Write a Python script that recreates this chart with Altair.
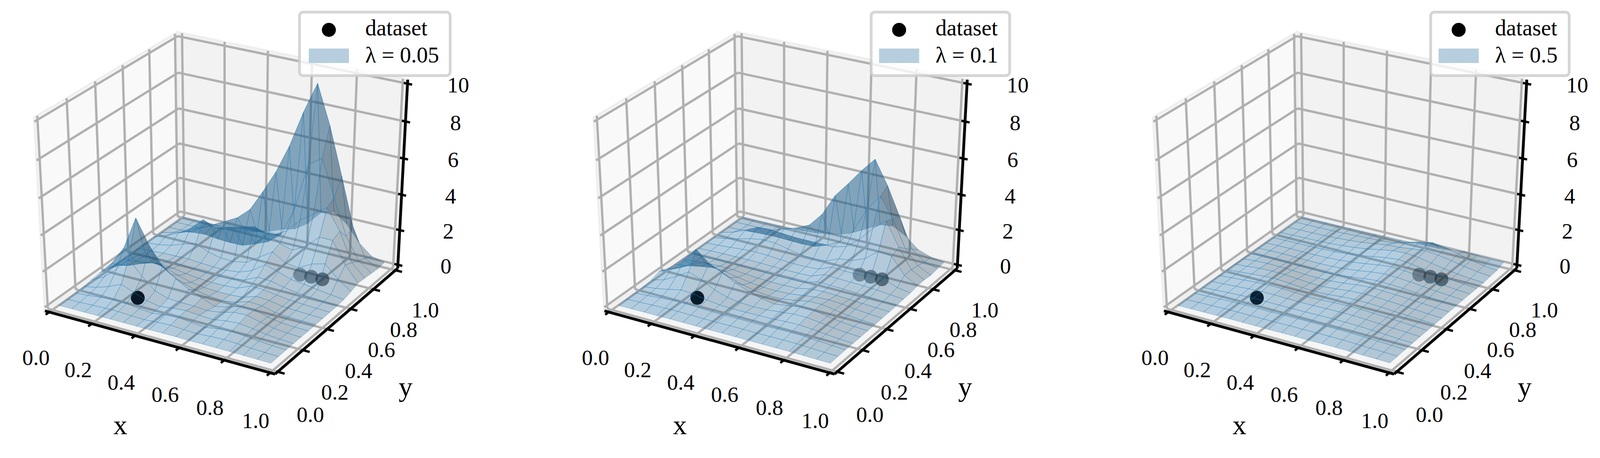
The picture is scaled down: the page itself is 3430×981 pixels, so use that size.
import numpy as np
import pandas as pd
import altair as alt

GRID = [0.02, 0.08, 0.14, 0.20, 0.26, 0.32, 0.38, 0.44, 0.50, 0.56, 0.62, 0.68, 0.74, 0.80, 0.86, 0.92, 0.98]
X_TICKS = [0.0, 0.2, 0.4, 0.6, 0.8, 1.0]
Y_TICKS = [0.0, 0.2, 0.4, 0.6, 0.8, 1.0]
Z_TICKS = [0, 2, 4, 6, 8, 10]
DOTS_X = [0.255, 0.717, 0.765, 0.815]
DOTS_Y = [0.233, 0.740, 0.746, 0.748]
DOTS_OP = [1.0, 0.38, 0.45, 0.52]
LAMBDAS = ["λ = 0.05", "λ = 0.1", "λ = 0.5"]

Z_A = [
[.00,.01,.01,.02,.02,.02,.02,.03,.03,.03,.02,.03,.03,.03,.02,.01,.00],
[.02,.04,.07,.10,.10,.06,.04,.10,.13,.08,.05,.11,.14,.10,.06,.03,.01],
[.04,.10,.18,.26,.22,.12,.06,.16,.22,.14,.07,.18,.24,.18,.10,.05,.02],
[.08,.22,.46,.78,.50,.22,.10,.20,.26,.20,.16,.28,.34,.24,.12,.06,.02],
[.14,.48,1.1,1.9,1.1,.46,.22,.18,.18,.12,.22,.42,.45,.26,.12,.05,.02],
[.20,.95,2.0,3.85,2.5,1.55,1.0,.60,.30,.02,.18,.40,.42,.20,.08,.04,.02],
[.10,.50,1.1,1.6,1.2,.75,.42,.20,.06,.00,.10,.34,.30,.12,.06,.04,.03],
[.04,.16,.46,.70,.60,.34,.14,.04,.00,.00,.05,.30,.26,.12,.08,.05,.03],
[.02,.08,.20,.30,.24,.12,.04,.00,.00,.05,.36,.34,.24,.14,.10,.06,.04],
[.01,.05,.12,.16,.12,.06,.02,.00,.05,.18,.54,.50,.34,.22,.16,.10,.05],
[.01,.05,.10,.12,.14,.08,.04,.04,.12,.40,.93,.70,.46,.38,.26,.16,.08],
[.02,.10,.24,.50,.70,.40,.24,.22,.36,.85,1.33,.90,.80,1.2,1.4,.7,.2],
[.05,.30,.65,1.1,1.78,1.5,1.7,1.9,2.1,1.9,1.5,1.3,1.7,2.4,2.4,1.2,.35],
[.00,.18,.40,.80,1.1,1.1,1.2,1.3,1.5,1.5,1.9,2.7,3.2,3.75,2.6,1.0,.3],
[.00,.02,.06,.12,.03,.00,.02,.3,.6,1.2,2.8,5.5,6.0,4.0,2.0,.8,.25],
[.00,.00,.02,.37,.75,1.15,1.8,3.0,4.3,5.9,7.9,9.6,7.5,4.9,2.2,.6,.2],
[.00,.00,.00,.00,.02,.10,.20,.40,.70,.9,1.4,2.2,2.4,1.9,1.0,.4,.25],
]
Z_B = [
[.00,.01,.02,.02,.03,.03,.03,.03,.03,.03,.03,.03,.03,.03,.02,.01,.00],
[.02,.05,.08,.10,.11,.10,.09,.09,.10,.10,.09,.10,.11,.10,.07,.04,.02],
[.04,.09,.15,.20,.21,.18,.15,.14,.15,.15,.15,.17,.18,.16,.11,.06,.03],
[.07,.16,.30,.46,.42,.28,.19,.16,.17,.18,.20,.24,.26,.21,.13,.07,.03],
[.12,.32,.70,1.15,.90,.52,.28,.17,.14,.16,.24,.32,.33,.24,.14,.07,.03],
[.30,.60,1.3,2.1,1.5,1.15,.78,.48,.27,.15,.26,.38,.38,.25,.13,.07,.03],
[.12,.36,.75,1.05,.85,.55,.32,.16,.08,.10,.22,.36,.38,.26,.14,.08,.04],
[.05,.15,.30,.42,.38,.24,.12,.05,.03,.06,.16,.26,.30,.25,.16,.09,.05],
[.03,.08,.14,.18,.16,.10,.05,.02,.02,.04,.20,.24,.22,.18,.14,.10,.06],
[.02,.05,.08,.10,.09,.06,.03,.02,.03,.04,.28,.26,.24,.20,.16,.12,.08],
[.02,.05,.07,.08,.09,.08,.06,.05,.05,.08,.36,.32,.30,.28,.24,.16,.10],
[.02,.06,.12,.18,.22,.20,.14,.10,.10,.16,.46,.42,.42,.50,.50,.24,.12],
[.02,.14,.30,.50,.62,.60,.45,.30,.25,.30,.62,.70,1.0,1.6,1.5,.6,.2],
[.01,.20,.50,.85,.90,.85,.80,.80,.80,.80,1.0,1.6,2.4,3.0,1.7,.6,.2],
[.00,.04,.08,.12,.14,.12,.10,.14,.40,.8,1.6,3.0,3.9,2.8,1.3,.5,.14],
[.00,.01,.02,.04,.30,.55,.90,1.7,2.95,3.8,4.7,5.5,4.2,2.6,.95,.4,.2],
[.00,.00,.01,.02,.04,.06,.12,.25,.4,.7,1.1,1.5,1.6,1.2,.6,.35,.25],
]
Z_C = [
[.00,.01,.02,.03,.04,.04,.04,.04,.05,.05,.05,.06,.06,.05,.04,.03,.02],
[.01,.03,.05,.07,.08,.08,.08,.09,.10,.10,.11,.11,.11,.09,.07,.05,.03],
[.02,.05,.08,.11,.13,.13,.13,.14,.15,.16,.16,.16,.15,.13,.10,.07,.04],
[.03,.07,.11,.15,.18,.18,.18,.18,.19,.20,.21,.21,.19,.16,.12,.08,.05],
[.04,.09,.14,.19,.23,.23,.21,.20,.21,.23,.24,.24,.21,.17,.13,.09,.05],
[.05,.11,.17,.22,.26,.25,.21,.18,.19,.23,.26,.25,.22,.18,.14,.09,.05],
[.06,.12,.19,.24,.26,.22,.16,.13,.16,.23,.27,.26,.23,.18,.14,.09,.05],
[.06,.12,.19,.21,.20,.15,.10,.09,.15,.23,.28,.27,.23,.19,.14,.09,.05],
[.05,.11,.15,.14,.12,.08,.06,.08,.15,.24,.30,.28,.25,.20,.15,.10,.06],
[.04,.08,.10,.09,.07,.05,.05,.09,.17,.27,.34,.32,.28,.22,.16,.10,.06],
[.03,.06,.07,.06,.05,.05,.07,.12,.21,.32,.40,.38,.32,.24,.17,.11,.06],
[.02,.04,.05,.05,.05,.07,.11,.18,.28,.40,.48,.44,.36,.26,.18,.11,.06],
[.01,.03,.04,.05,.07,.10,.16,.25,.37,.50,.58,.50,.38,.27,.18,.10,.05],
[.01,.02,.04,.06,.09,.14,.21,.31,.45,.58,.62,.56,.42,.28,.17,.09,.04],
[.00,.02,.03,.05,.08,.13,.20,.29,.41,.45,.55,.62,.55,.42,.28,.15,.08],
[.00,.01,.02,.03,.05,.08,.12,.16,.20,.43,.63,.78,.67,.50,.30,.18,.10],
[.00,.00,.01,.01,.02,.03,.04,.05,.06,.08,.10,.12,.20,.30,.27,.24,.25],
]

# ----- perspective camera; its angles and the box proportions are found by a search
# against seven corners of the box
M = 1 / 48
ZM = 10 / 48
CAL_3D = [(-M, -M, -ZM), (1 + M, -M, -ZM), (1 + M, 1 + M, -ZM), (-M, 1 + M, -ZM),
          (-M, -M, 10 + ZM), (-M, 1 + M, 10 + ZM), (1 + M, 1 + M, 10 + ZM)]
CAL_PX = np.array([(95.7, 665), (590, 799), (854.6, 579), (384.6, 460), (76.5, 250), (377.5, 65.7), (873.7, 175)])


def make_cam(el_deg, az_deg, zr):
    el, az = np.radians(el_deg), np.radians(az_deg)
    box = np.array([4.0, 4.0, zr])
    box = box * 1.8294640721620434 * 25 / 24 / np.linalg.norm(box)
    R = box / 2
    E = R + 10 * np.array([np.cos(el) * np.cos(az), np.cos(el) * np.sin(az), np.sin(el)])
    w = (E - R) / np.linalg.norm(E - R)
    u = np.cross([0, 0, 1], w)
    u = u / np.linalg.norm(u)
    v = np.cross(w, u)
    return box, E, u, v, w


def raw(cam, x, y, z):
    box, E, u, v, w = cam
    p = np.array([x * box[0], y * box[1], z / 10 * box[2]], dtype=float) - E
    d = -(p @ w)
    return (p @ u) / d, (p @ v) / d, d


best = None
for el_d in np.arange(14, 36, 1.0):
    for az_d in np.arange(-72, -48, 1.0):
        for zr in np.arange(2.4, 5.2, 0.2):
            cam = make_cam(el_d, az_d, zr)
            rw = np.array([raw(cam, *c)[:2] for c in CAL_3D])
            A1 = np.c_[rw[:, 0], np.ones(7)]
            A2 = np.c_[rw[:, 1], np.ones(7)]
            s1, r1 = np.linalg.lstsq(A1, CAL_PX[:, 0], rcond=None)[:2]
            s2, r2 = np.linalg.lstsq(A2, CAL_PX[:, 1], rcond=None)[:2]
            err = float(r1[0] + r2[0])
            if best is None or err < best[0]:
                best = (err, cam, s1, s2)
_, CAM, SX, SY = best


def proj(x, y, z):
    a, b, d = raw(CAM, x, y, z)
    return SX[0] * a + SX[1], SY[0] * b + SY[1], d


LIGHT = np.array([-2 / 3, -2 / 3, 1 / 3])
BASE = np.array([31, 119, 180])


def hexc(f):
    c = np.clip(BASE * f, 0, 255).astype(int)
    return "#%02x%02x%02x" % tuple(c)


def surface_frame(Z):
    quads = []
    n = len(GRID)
    for j in range(n - 1):
        for i in range(n - 1):
            corners = [(GRID[i], GRID[j], Z[j][i]), (GRID[i + 1], GRID[j], Z[j][i + 1]),
                       (GRID[i + 1], GRID[j + 1], Z[j + 1][i + 1]), (GRID[i], GRID[j + 1], Z[j + 1][i])]
            c = np.array(corners)
            nrm = np.cross(c[0] - c[2], c[1] - c[3])
            shade = nrm / np.linalg.norm(nrm) @ LIGHT
            f = 0.3 + 0.7 * (shade + 1) / 2
            pts = [proj(*p) for p in corners]
            depth = np.mean([p[2] for p in pts])
            quads.append((depth, pts, hexc(f)))
    quads.sort(key=lambda q: -q[0])
    rows = []
    for q, (d, pts, col) in enumerate(quads):
        for k, p in enumerate(pts):
            rows.append({"sx": round(p[0], 2), "sy": round(p[1], 2), "id": q, "k": k, "c": col})
    return pd.DataFrame(rows)


def poly_frame(polys):
    rows = []
    for q, (pts, col) in enumerate(polys):
        for k, p in enumerate(pts):
            a = proj(*p)
            rows.append({"sx": a[0], "sy": a[1], "id": q, "k": k, "c": col})
    return pd.DataFrame(rows)


def seg_frame(segs):
    rows = []
    for q, (p0, p1) in enumerate(segs):
        for k, p in enumerate((p0, p1)):
            a = proj(*p)
            rows.append({"sx": a[0], "sy": a[1], "id": q, "k": k})
    return pd.DataFrame(rows)


lo, hi, zlo, zhi = -M, 1 + M, -ZM, 10 + ZM
PANES = poly_frame([
    ([(lo, lo, zlo), (hi, lo, zlo), (hi, hi, zlo), (lo, hi, zlo)], "#f5f5f5"),
    ([(lo, lo, zlo), (lo, hi, zlo), (lo, hi, zhi), (lo, lo, zhi)], "#f9f9f9"),
    ([(lo, hi, zlo), (hi, hi, zlo), (hi, hi, zhi), (lo, hi, zhi)], "#f2f2f2"),
])
grid_segs = []
for t in X_TICKS:
    grid_segs += [((t, lo, zlo), (t, hi, zlo)), ((t, hi, zlo), (t, hi, zhi))]
for t in Y_TICKS:
    grid_segs += [((lo, t, zlo), (hi, t, zlo)), ((lo, t, zlo), (lo, t, zhi))]
for t in Z_TICKS:
    grid_segs += [((lo, lo, t), (lo, hi, t)), ((lo, hi, t), (hi, hi, t))]
GRIDLINES = seg_frame(grid_segs)
AXES = seg_frame([((lo, lo, zlo), (hi, lo, zlo)), ((hi, lo, zlo), (hi, hi, zlo)), ((hi, hi, zlo), (hi, hi, zhi))])
tick_segs = []
for t in X_TICKS:
    tick_segs.append(((t, lo - 0.026, zlo), (t, lo + 0.006, zlo)))
for t in Y_TICKS:
    tick_segs.append(((hi - 0.006, t, zlo), (hi + 0.03, t, zlo)))
for t in Z_TICKS:
    tick_segs.append(((hi - 0.016, hi, t), (hi + 0.02, hi, t)))
TICKS = seg_frame(tick_segs)

labels = []
for t in X_TICKS:
    a = proj(t, -0.13, -2.25)
    labels.append({"sx": a[0], "sy": a[1], "t": f"{t:.1f}", "s": 47})
for t in Y_TICKS:
    a = proj(1.165, t, -2.13)
    labels.append({"sx": a[0], "sy": a[1], "t": f"{t:.1f}", "s": 47})
for t in Z_TICKS:
    a = proj(1.19, 1.124, t - 0.15)
    labels.append({"sx": a[0], "sy": a[1], "t": str(t), "s": 47})
a = proj(0.5, -0.3, -3.25)
labels.append({"sx": a[0], "sy": a[1], "t": "x", "s": 60})
a = proj(1.325, 0.5, -3.1)
labels.append({"sx": a[0], "sy": a[1], "t": "y", "s": 60})
LABELS = pd.DataFrame(labels)

dots = []
for x, y, o in zip(DOTS_X, DOTS_Y, DOTS_OP):
    a = proj(x, y, 0)
    dots.append({"sx": a[0], "sy": a[1], "o": o})
DOTS = pd.DataFrame(dots)


def panel(Z, lam, xdom, width, lx0, circ_x, patch, text_x):
    sxs = alt.Scale(domain=xdom, nice=False, zero=False)
    sys = alt.Scale(domain=[8, 973], reverse=True, nice=False, zero=False)
    X = alt.X("sx:Q", scale=sxs, axis=None)
    Y = alt.Y("sy:Q", scale=sys, axis=None)

    panes = alt.Chart(PANES).mark_line(interpolate="linear-closed", strokeWidth=0).encode(
        x=X, y=Y, detail="id:N", order=alt.Order("k:Q"), fill=alt.Fill("c:N", scale=None))
    pane_edge = alt.Chart(PANES).mark_line(interpolate="linear-closed", stroke="#efefef", strokeWidth=5).encode(
        x=X, y=Y, detail="id:N", order=alt.Order("k:Q"))
    grid = alt.Chart(GRIDLINES).mark_line(stroke="#b0b0b0", strokeWidth=5).encode(
        x=X, y=Y, detail="id:N", order=alt.Order("k:Q"))
    axes = alt.Chart(AXES).mark_line(stroke="#000000", strokeWidth=6).encode(
        x=X, y=Y, detail="id:N", order=alt.Order("k:Q"))
    ticks = alt.Chart(TICKS).mark_line(stroke="#000000", strokeWidth=5).encode(
        x=X, y=Y, detail="id:N", order=alt.Order("k:Q"))
    dot = alt.Chart(DOTS).mark_circle(color="#000000", size=880).encode(
        x=X, y=Y, opacity=alt.Opacity("o:Q", scale=None))
    surf = alt.Chart(surface_frame(Z)).mark_line(interpolate="linear-closed", stroke="#1f77b4", fillOpacity=0.3,
                                                 strokeOpacity=0.4, strokeWidth=1.0).encode(
        x=X, y=Y, detail="id:N", order=alt.Order("k:Q"), fill=alt.Fill("c:N", scale=None))
    txt = alt.Chart(LABELS).mark_text(font="Liberation Serif", color="#000000", align="center", baseline="middle").encode(
        x=X, y=Y, text="t:N", size=alt.Size("s:Q", scale=None))

    box_df = pd.DataFrame([{"sx": lx0, "sx2": 965, "sy": 26, "sy2": 162}])
    lbox = alt.Chart(box_df).mark_rect(fill="#ffffff", fillOpacity=0.8, stroke="#cccccc", strokeOpacity=0.8,
                                       strokeWidth=6, cornerRadius=8).encode(
        x=X, x2="sx2:Q", y=Y, y2="sy2:Q")
    p_df = pd.DataFrame([{"sx": patch[0], "sx2": patch[1], "sy": 104, "sy2": 135}])
    lpatch = alt.Chart(p_df).mark_rect(fill="#b6cede").encode(x=X, x2="sx2:Q", y=Y, y2="sy2:Q")
    ldot = alt.Chart(pd.DataFrame([{"sx": circ_x, "sy": 64}])).mark_circle(color="#000000", size=900, opacity=1).encode(x=X, y=Y)
    ltxt = alt.Chart(pd.DataFrame([{"sx": text_x, "sy": 76, "t": "dataset"}, {"sx": text_x, "sy": 134, "t": lam}])).mark_text(
        font="Liberation Serif", fontSize=48, color="#000000", align="left", baseline="alphabetic").encode(
        x=X, y=Y, text="t:N")
    return alt.layer(panes, pane_edge, grid, axes, ticks, dot, surf, txt, lbox, lpatch, ldot, ltxt).properties(
        width=width, height=965)


p1 = panel(Z_A, LAMBDAS[0], [8, 1207], 1199, 642, 705, (662, 748), 783)
p2 = panel(Z_B, LAMBDAS[1], [7.5, 1207.5], 1200, 668, 728, (685, 771), 806)
p3 = panel(Z_C, LAMBDAS[2], [8, 1023], 1015, 668, 728, (685, 771), 806)

chart = alt.hconcat(p1, p2, p3, spacing=0, bounds="flush").properties(padding=0, background="#ffffff").configure_view(stroke=None)
chart.save("out.html", embed_options={"renderer": "svg", "actions": False})
